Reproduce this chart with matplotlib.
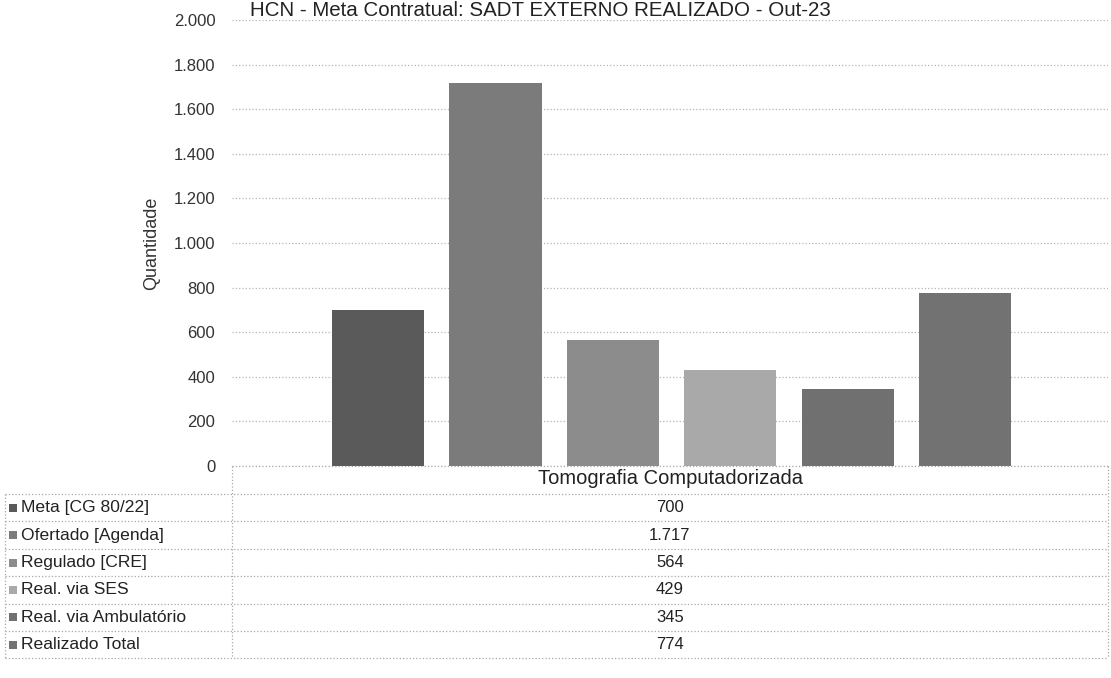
import matplotlib.pyplot as plt
import numpy as np

# data
categoria = 'Tomografia Computadorizada'
series = ['Meta [CG 80/22]', 'Ofertado [Agenda]', 'Regulado [CRE]',
          'Real. via SES', 'Real. via Ambulatório', 'Realizado Total']
valores = [700, 1717, 564, 429, 345, 774]
cores = ['#5a5a5a', '#7b7b7b', '#8c8c8c', '#a9a9a9', '#707070', '#727272']
yticks = [0, 200, 400, 600, 800, 1000, 1200, 1400, 1600, 1800, 2000]


def fmt(v):
    return f'{v:,}'.replace(',', '.')


plt.rcParams['font.family'] = ['Liberation Sans', 'DejaVu Sans']

W, H = 1111, 678
fig = plt.figure(figsize=(W / 100, H / 100), dpi=100)

# plot area in pixels
x0, x1, ytop, ybot = 232, 1108, 20, 466
ax = fig.add_axes([x0 / W, 1 - ybot / H, (x1 - x0) / W, (ybot - ytop) / H])

pos = np.arange(len(valores))
ax.bar(pos, valores, width=0.785, color=cores, zorder=2)
ax.set_xlim(-1.244, 6.218)
ax.set_ylim(0, 2000)
ax.set_yticks(yticks)
ax.set_yticklabels([fmt(v) for v in yticks], fontsize=12, color='#333333')
ax.tick_params(axis='y', length=0, pad=12)
ax.set_xticks([])
ax.grid(axis='y', color='#b5b5b5', linestyle=':', linewidth=0.9, zorder=0)
for s in ax.spines.values():
    s.set_visible(False)
ax.set_ylabel('Quantidade', fontsize=13, color='#333333', labelpad=10)
fig.text(540 / W, 1 - 11 / H, 'HCN - Meta Contratual: SADT EXTERNO REALIZADO - Out-23',
         ha='center', va='center', fontsize=14.8, color='#222222')

# data table (drawn in figure pixels)
def fx(px):
    return px / W


def fy(py):
    return 1 - py / H


lc = '#a8a8a8'
ls = dict(color=lc, linestyle=':', linewidth=0.9)
tl = 5
row0 = 494
rh = 27.4
nrows = len(series)

# header row
fig.add_artist(plt.Line2D([fx(x0), fx(x1)], [fy(ybot), fy(ybot)], **ls))
fig.add_artist(plt.Line2D([fx(x0), fx(x0)], [fy(ybot), fy(row0 + rh * nrows)], **ls))
fig.add_artist(plt.Line2D([fx(x1), fx(x1)], [fy(ybot), fy(row0 + rh * nrows)], **ls))
fig.add_artist(plt.Line2D([fx(tl), fx(tl)], [fy(row0), fy(row0 + rh * nrows)], **ls))
fig.text(fx(671), fy((ybot + row0) / 2 - 1), categoria,
         ha='center', va='center', fontsize=14.5, color='#222222')

for i in range(nrows + 1):
    y = row0 + rh * i
    fig.add_artist(plt.Line2D([fx(tl), fx(x1)], [fy(y), fy(y)], **ls))

for i, (nome, v, c) in enumerate(zip(series, valores, cores)):
    yc = row0 + rh * (i + 0.5)
    fig.patches.append(plt.Rectangle((fx(9), fy(yc + 4)), fx(8), 8 / H,
                                     transform=fig.transFigure, facecolor=c,
                                     edgecolor='none', figure=fig))
    fig.text(fx(21), fy(yc), nome, ha='left', va='center', fontsize=12.6,
             color='#222222')
    fig.text(fx(670), fy(yc), fmt(v), ha='center', va='center', fontsize=12,
             color='#222222')

fig.savefig('out.png', dpi=100, facecolor='white')
